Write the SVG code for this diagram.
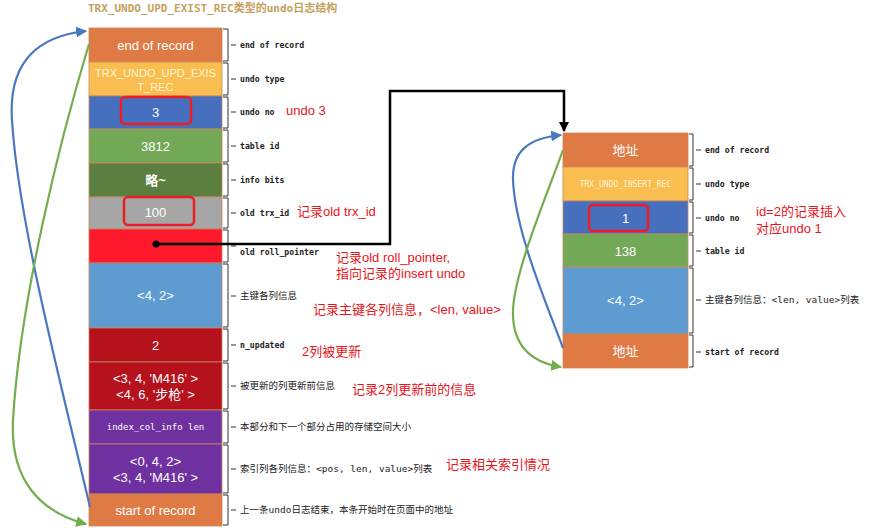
<svg xmlns="http://www.w3.org/2000/svg" width="874" height="528" viewBox="0 0 874 528">
<defs>
<style>
.box{stroke:#c9885a;stroke-width:0.8}
.t{font-family:"Liberation Sans","Noto Sans CJK SC",sans-serif;font-size:13px;fill:#ffffff;text-anchor:middle}
.tm{font-family:"DejaVu Sans Mono","Liberation Mono","Noto Sans CJK SC",monospace;fill:#ffffff;text-anchor:middle}
.lb{font-family:"DejaVu Sans Mono","Liberation Mono",monospace;font-size:8.2px;fill:#222222;font-weight:bold}
.lbc{font-family:"DejaVu Sans Mono","Noto Sans CJK SC",monospace;font-size:9.5px;fill:#222222}
.an{font-family:"Liberation Sans","Noto Sans CJK SC",sans-serif;font-size:13px;fill:#e8141c}
.br{fill:none;stroke:#333333;stroke-width:1}
.hl{fill:none;stroke:#ee1c24;stroke-width:2.5}
.blue{fill:none;stroke:#4a78c0;stroke-width:2.2}
.green{fill:none;stroke:#74ad4f;stroke-width:2.2}
</style>
<marker id="ab" viewBox="0 0 10 10" refX="9" refY="5" markerWidth="5" markerHeight="5" orient="auto"><path d="M0,0 L10,5 L0,10 z" fill="#4a78c0"/></marker>
<marker id="ag" viewBox="0 0 10 10" refX="9" refY="5" markerWidth="5" markerHeight="5" orient="auto"><path d="M0,0 L10,5 L0,10 z" fill="#74ad4f"/></marker>
<marker id="ak" viewBox="0 0 10 10" refX="9" refY="5" markerWidth="4" markerHeight="4" orient="auto"><path d="M0,0 L10,5 L0,10 z" fill="#000000"/></marker>
</defs>
<rect width="874" height="528" fill="#ffffff"/>
<text x="88" y="12" style="font-family:'DejaVu Sans Mono','Noto Sans CJK SC',monospace;font-size:11px;font-weight:bold;fill:#c4a060">TRX_UNDO_UPD_EXIST_REC类型的undo日志结构</text>

<g id="left-record">
<g id="l-end"><rect class="box" x="89" y="28" width="133" height="34" fill="#e07a45"/><text class="t" x="155.5" y="50">end of record</text>
<path class="br" d="M223,29 H228 V61 H223 M231,45 H236"/><text class="lb" x="240" y="48">end of record</text></g>
<g id="l-type"><rect class="box" x="89" y="62" width="133" height="34" fill="#f9be4f"/><text class="t" x="155.5" y="77" style="font-size:11px;fill:#fff3d6">TRX_UNDO_UPD_EXIS</text><text class="t" x="155.5" y="91" style="font-size:11px;fill:#fff3d6">T_REC</text>
<path class="br" d="M223,63 H228 V95 H223 M231,79 H236"/><text class="lb" x="240" y="82">undo type</text></g>
<g id="l-no"><rect class="box" x="89" y="96" width="133" height="33" fill="#4670bd"/><rect class="hl" x="121" y="97" width="70" height="27" rx="4"/><text class="t" x="155.5" y="117">3</text>
<path class="br" d="M223,97 H228 V128 H223 M231,112 H236"/><text class="lb" x="240" y="115">undo no</text><text class="an" x="286" y="115">undo 3</text></g>
<g id="l-table"><rect class="box" x="89" y="129" width="133" height="34" fill="#73a857"/><text class="t" x="155.5" y="151">3812</text>
<path class="br" d="M223,130 H228 V162 H223 M231,146 H236"/><text class="lb" x="240" y="149">table id</text></g>
<g id="l-info"><rect class="box" x="89" y="163" width="133" height="34" fill="#5a7f40"/><text class="t" x="155.5" y="185" style="font-weight:bold">略~</text>
<path class="br" d="M223,164 H228 V196 H223 M231,180 H236"/><text class="lb" x="240" y="183">info bits</text></g>
<g id="l-trx"><rect class="box" x="89" y="197" width="133" height="32" fill="#a6a6a6"/><rect class="hl" x="124" y="197" width="70" height="28" rx="4"/><text class="t" x="155.5" y="217">100</text>
<path class="br" d="M223,198 H228 V228 H223 M231,213 H236"/><text class="lb" x="240" y="216">old trx_id</text><text class="an" x="297" y="216">记录old trx_id</text></g>
<g id="l-roll"><rect class="box" x="89" y="229" width="133" height="34" fill="#fe1a2c"/>
<path class="br" d="M223,230 H228 V262 H223 M231,246 H236"/><text class="lb" x="240" y="255">old roll_pointer</text><text class="an" x="336" y="262">记录old roll_pointer,</text><text class="an" x="336" y="278">指向记录的insert undo</text></g>
<g id="l-pk"><rect class="box" x="89" y="263" width="133" height="65" fill="#5d9bd1"/><text class="t" x="155.5" y="300">&lt;4, 2&gt;</text>
<path class="br" d="M223,264 H228 V327 H223 M231,296 H236"/><text class="lbc" x="240" y="299">主键各列信息</text><text class="an" x="313" y="314">记录主键各列信息，&lt;len, value&gt;</text></g>
<g id="l-nup"><rect class="box" x="89" y="328" width="133" height="34" fill="#b5121d"/><text class="t" x="155.5" y="350">2</text>
<path class="br" d="M223,329 H228 V361 H223 M231,345 H236"/><text class="lb" x="240" y="348">n_updated</text><text class="an" x="302" y="356">2列被更新</text></g>
<g id="l-old"><rect class="box" x="89" y="362" width="133" height="48" fill="#b5121d"/><text class="t" x="155.5" y="383">&lt;3, 4, 'M416' &gt;</text><text class="t" x="155.5" y="399">&lt;4, 6, '步枪' &gt;</text>
<path class="br" d="M223,363 H228 V409 H223 M231,386 H236"/><text class="lbc" x="240" y="389">被更新的列更新前信息</text><text class="an" x="352" y="394">记录2列更新前的信息</text></g>
<g id="l-len"><rect class="box" x="89" y="410" width="133" height="34" fill="#7031a0"/><text class="tm" x="155.5" y="430" style="font-size:9px">index_col_info len</text>
<path class="br" d="M223,411 H228 V443 H223 M231,427 H236"/><text class="lbc" x="240" y="430">本部分和下一个部分占用的存储空间大小</text></g>
<g id="l-idx"><rect class="box" x="89" y="444" width="133" height="50" fill="#7031a0"/><text class="t" x="155.5" y="466">&lt;0, 4, 2&gt;</text><text class="t" x="155.5" y="482">&lt;3, 4, 'M416' &gt;</text>
<path class="br" d="M223,445 H228 V493 H223 M231,469 H236"/><text class="lbc" x="240" y="472">索引列各列信息：&lt;pos, len, value&gt;列表</text><text class="an" x="446" y="469">记录相关索引情况</text></g>
<g id="l-start"><rect class="box" x="89" y="494" width="133" height="32" fill="#e07a45"/><text class="t" x="155.5" y="515">start of record</text>
<path class="br" d="M223,495 H228 V525 H223 M231,510 H236"/><text class="lbc" x="240" y="513">上一条undo日志结束，本条开始时在页面中的地址</text></g>
</g>

<g id="right-record">
<g id="r-end"><rect class="box" x="563" y="133" width="125" height="34" fill="#e07a45"/><text class="t" x="625.5" y="155">地址</text>
<path class="br" d="M689,134 H693 V166 H689 M696,150 H701"/><text class="lb" x="705" y="153">end of record</text></g>
<g id="r-type"><rect class="box" x="563" y="167" width="125" height="34" fill="#f9be4f"/><text class="tm" x="625.5" y="187" style="font-size:8px;fill:#fff3d6">TRX_UNDO_INSERT_REC</text>
<path class="br" d="M689,168 H693 V200 H689 M696,184 H701"/><text class="lb" x="705" y="187">undo type</text></g>
<g id="r-no"><rect class="box" x="563" y="201" width="125" height="33" fill="#4670bd"/><rect class="hl" x="589" y="205" width="59" height="26" rx="4"/><text class="t" x="625.5" y="223">1</text>
<path class="br" d="M689,202 H693 V233 H689 M696,218 H701"/><text class="lb" x="705" y="221">undo no</text><text class="an" x="756" y="216">id=2的记录插入</text><text class="an" x="756" y="233">对应undo 1</text></g>
<g id="r-table"><rect class="box" x="563" y="234" width="125" height="33" fill="#73a857"/><text class="t" x="625.5" y="256">138</text>
<path class="br" d="M689,235 H693 V266 H689 M696,251 H701"/><text class="lb" x="705" y="254">table id</text></g>
<g id="r-pk"><rect class="box" x="563" y="267" width="125" height="67" fill="#5d9bd1"/><text class="t" x="625.5" y="305">&lt;4, 2&gt;</text>
<path class="br" d="M689,268 H693 V333 H689 M696,300 H701"/><text class="lbc" x="705" y="303">主键各列信息：&lt;len, value&gt;列表</text></g>
<g id="r-start"><rect class="box" x="563" y="334" width="125" height="34" fill="#e07a45"/><text class="t" x="625.5" y="356">地址</text>
<path class="br" d="M689,335 H693 V367 H689 M696,352 H701"/><text class="lb" x="705" y="355">start of record</text></g>
</g>

<g id="connectors">
<path class="blue" d="M90,507 C60,380 18,220 12,120 C8,60 40,36 86,31" marker-end="url(#ab)"/>
<path class="green" d="M89,44 C60,140 20,300 13,420 C10,480 40,512 86,524" marker-end="url(#ag)"/>
<path class="blue" d="M563,348 C545,300 515,230 513,180 C512,150 530,138 561,135" marker-end="url(#ab)"/>
<path class="green" d="M563,150 C545,200 515,270 513,310 C512,345 530,362 561,367" marker-end="url(#ag)"/>
<path d="M156,244 H390 V91 H564 V131" fill="none" stroke="#000000" stroke-width="2.5" marker-end="url(#ak)"/>
<circle cx="156" cy="244" r="3.5" fill="#000000"/>
</g>
</svg>
